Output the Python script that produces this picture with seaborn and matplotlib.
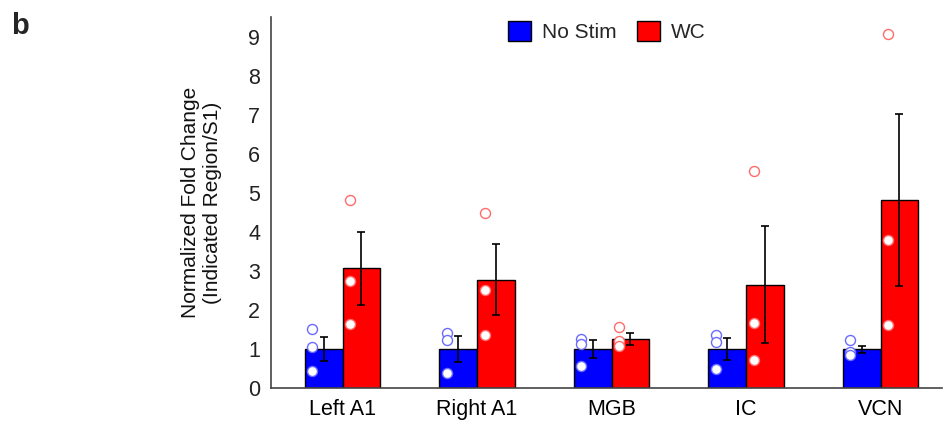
import numpy as np
import pandas as pd
import matplotlib
matplotlib.use("Agg")
import matplotlib.pyplot as plt
import seaborn as sns
from matplotlib.patches import Patch

regions = ["Left A1", "Right A1", "MGB", "IC", "VCN"]
conditions = ["No Stim", "WC"]
nostim_mean = [1.0, 1.0, 1.0, 1.0, 1.0]
nostim_err = [0.30, 0.34, 0.22, 0.27, 0.09]
wc_mean = [3.07, 2.78, 1.25, 2.65, 4.82]
wc_err = [0.93, 0.92, 0.15, 1.49, 2.21]
nostim_points = [[1.50, 1.05, 0.45], [1.40, 1.22, 0.38], [1.25, 1.12, 0.57],
                 [1.37, 1.17, 0.48], [1.23, 0.93, 0.85]]
wc_points = [[4.82, 2.75, 1.65], [4.47, 2.50, 1.37], [1.57, 1.20, 1.07],
             [5.57, 1.67, 0.72], [9.07, 3.78, 1.62]]
yticks = [0, 1, 2, 3, 4, 5, 6, 7, 8, 9]

bar_colors = {"No Stim": "#0000ff", "WC": "#ff0000"}
pt_colors = {"No Stim": "#6a6aff", "WC": "#ff6a6a"}

sns.set_theme(style="white")
plt.rcParams["font.family"] = ["Liberation Sans", "DejaVu Sans"]

df = pd.DataFrame({
    "region": regions * 2,
    "cond": ["No Stim"] * 5 + ["WC"] * 5,
    "mean": nostim_mean + wc_mean,
    "err": nostim_err + wc_err,
})

fig = plt.figure(figsize=(9.52, 4.26), dpi=100)
ax = fig.add_axes([0.285, 0.089, 0.705, 0.871])

width = 0.56
sns.barplot(data=df, x="region", y="mean", hue="cond", order=regions,
            hue_order=conditions, palette=bar_colors, width=width,
            saturation=1, edgecolor="black", linewidth=1.0, errorbar=None,
            ax=ax, legend=False, zorder=2)

half = width / 2
offsets = {"No Stim": -half / 2, "WC": half / 2}
pt_shift = -0.085

for cond, means, errs, pts in [("No Stim", nostim_mean, nostim_err, nostim_points),
                               ("WC", wc_mean, wc_err, wc_points)]:
    xs = np.arange(len(regions)) + offsets[cond]
    ax.errorbar(xs, means, yerr=errs, fmt="none", ecolor="black",
                elinewidth=1.2, capsize=3, capthick=1.2, zorder=4)
    pdf = pd.DataFrame({
        "x": np.repeat(xs + pt_shift, 3),
        "y": np.concatenate([np.array(p) for p in pts]),
    })
    sns.scatterplot(data=pdf, x="x", y="y", ax=ax, s=52, marker="o",
                    facecolor="white", edgecolor=pt_colors[cond],
                    linewidth=1.0, zorder=5)

fs = 15.5
ax.set_xlim(-0.53, 4.46)
ax.set_ylim(0, 9.5)
ax.set_yticks(yticks)
ax.set_yticklabels([str(t) for t in yticks])
ax.set_xticks(range(len(regions)))
ax.set_xticklabels(regions)
ax.set_xticks([0.5, 1.5, 2.5, 3.5], minor=True)
ax.tick_params(axis="x", which="major", length=0, pad=8, labelsize=fs, colors="black")
ax.tick_params(axis="x", which="minor", direction="in", length=5, width=1, color="#444444")
ax.tick_params(axis="y", which="major", direction="in", length=5, width=1,
               color="#444444", labelsize=fs, labelcolor="#222222", pad=8)
ax.set_xlabel("")
ax.set_ylabel("Normalized Fold Change\n(Indicated Region/S1)", fontsize=15,
              color="#111111", labelpad=19)
sns.despine(ax=ax)
for s in ["left", "bottom"]:
    ax.spines[s].set_color("#444444")
    ax.spines[s].set_linewidth(1.2)

handles = [Patch(facecolor=bar_colors[c], edgecolor="black", label=c) for c in conditions]
ax.legend(handles=handles, loc="upper center", bbox_to_anchor=(0.5, 1.04), ncol=2,
          frameon=False, fontsize=15, handlelength=1.1, handleheight=1.1,
          handletextpad=0.5, columnspacing=1.0)

fig.text(0.012, 0.94, "b", fontsize=21, fontweight="bold", ha="left", va="center")

fig.savefig("out.png", dpi=100)
